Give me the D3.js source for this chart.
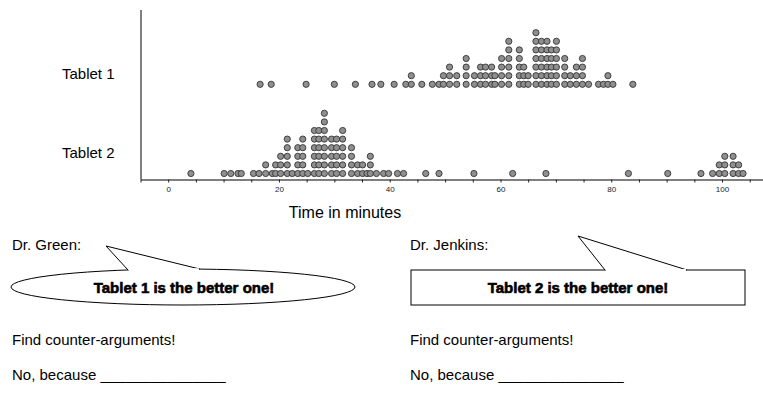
<!DOCTYPE html>
<html><head><meta charset="utf-8">
<script src="https://cdn.jsdelivr.net/npm/d3@7"></script>
<style>
html,body{margin:0;padding:0;background:#fff;}
svg{display:block;font-family:"Liberation Sans",Arial,sans-serif;}
</style></head>
<body><svg id="c" width="763" height="412"></svg>
<script>
// ---- data ----
const categories = ["Tablet 1", "Tablet 2"];
const tablet1 = [
  16.6, 18.6, 24.9, 30.0, 33.8, 36.8, 38.4, 40.8, 42.9, 43.9, 43.9, 45.8, 47.7, 48.9,
  49.7, 49.7, 50.8, 50.8, 50.8, 52.1, 52.1, 53.8, 53.8, 53.8, 53.8, 55.3, 55.3,
  56.4, 56.4, 56.4, 57.3, 57.3, 57.3, 58.4, 58.4, 58.4, 59.0, 59.0,
  60.2, 60.2, 60.2, 60.2, 61.5, 61.5, 61.5, 61.5, 61.5, 61.5,
  63.4, 63.4, 63.4, 63.4, 63.4, 64.2, 64.2, 64.2, 65.0, 65.0,
  66.4, 66.4, 66.4, 66.4, 66.4, 66.4, 66.4, 67.4, 67.4, 67.4, 67.4, 67.4, 67.4,
  68.4, 68.4, 68.4, 68.4, 68.4, 68.4, 69.2, 69.2, 69.2, 69.2, 69.2,
  70.1, 70.1, 70.1, 70.1, 70.1, 70.1, 71.6, 71.6, 71.6, 71.6, 72.6, 72.6,
  73.7, 73.7, 73.7, 74.8, 74.8, 74.8, 74.8, 75.9, 77.7, 78.6, 79.4, 79.4, 80.3, 83.9
];
const tablet2 = [
  4.1, 10.1, 11.3, 12.6, 13.2, 15.4, 16.4, 17.6, 17.6, 18.8, 19.4, 19.4,
  20.3, 20.3, 20.3, 21.5, 21.5, 21.5, 21.5, 21.5, 22.4, 23.4, 23.4, 23.4, 23.4,
  24.3, 24.3, 24.3, 24.3, 24.3, 25.2, 26.4, 26.4, 26.4, 26.4, 26.4, 26.4,
  27.2, 27.2, 27.2, 27.2, 27.2, 27.2, 28.2, 28.2, 28.2, 28.2, 28.2, 28.2, 28.2, 28.2,
  29.5, 29.5, 29.5, 29.5, 29.5, 30.4, 30.4, 30.4, 30.4, 30.4,
  31.5, 31.5, 31.5, 31.5, 31.5, 31.5, 33.1, 33.1, 33.1, 33.1, 34.2, 34.2, 35.1, 35.1,
  35.9, 36.5, 36.5, 36.5, 37.6, 38.9, 39.8, 41.4, 42.5, 46.5, 48.9,
  55.2, 62.2, 68.2, 83.1, 90.2, 96.2, 98.3, 99.5, 99.5, 100.5, 100.5, 100.5,
  102.0, 102.0, 102.0, 103.0, 103.0, 103.8
];
const seriesValues = [tablet1, tablet2];
const axisTicks = [0, 20, 40, 60, 80, 100];
const axisTitle = "Time in minutes";
const speakers = ["Dr. Green:", "Dr. Jenkins:"];
const claims = ["Tablet 1 is the better one!", "Tablet 2 is the better one!"];
const task = "Find counter-arguments!";
const answer = "No, because _______________";

// ---- chart ----
const svg = d3.select("#c");
const x = d3.scaleLinear().domain([-5, 107.4]).range([140.5, 763]);
const y = d3.scalePoint().domain(categories).range([84.3, 173.5]);
const step = 8.6;

svg.append("line").attr("x1",141).attr("x2",141).attr("y1",10).attr("y2",179.5)
  .attr("stroke","#000").attr("stroke-width",1);

const minor = d3.range(-5, 106, 5);
const gx = svg.append("g").attr("transform","translate(0,179.5)")
  .call(d3.axisBottom(x).tickValues(minor).tickSize(3).tickSizeOuter(0)
    .tickFormat(d => axisTicks.includes(d) ? d : ""));
gx.select(".domain").attr("stroke","#000").attr("stroke-width",1.2);
gx.selectAll(".tick line").attr("stroke","#222");
gx.selectAll(".tick text").attr("font-size",8).attr("fill","#222").attr("dy","0.75em")
  .attr("font-family","Liberation Sans, Arial, sans-serif");

// category labels
const labelY = {"Tablet 1": 79, "Tablet 2": 158};
svg.selectAll(".cat").data(categories).join("text")
  .attr("x", 62).attr("y", d => labelY[d])
  .attr("font-size", 15).attr("fill","#000").text(d => d);

// dots (stacked by identical value)
categories.forEach((cat, i) => {
  const seen = new Map();
  const pts = seriesValues[i].map(v => {
    const k = v.toFixed(1);
    const lvl = seen.get(k) || 0;
    seen.set(k, lvl + 1);
    return {v, lvl};
  });
  svg.append("g").selectAll("circle").data(pts).join("circle")
    .attr("cx", d => x(d.v))
    .attr("cy", d => y(cat) - d.lvl * step)
    .attr("r", 3.1)
    .attr("fill", "#8f8f8f")
    .attr("stroke", "#333")
    .attr("stroke-width", 0.9);
});

svg.append("text").attr("x", 345).attr("y", 218).attr("text-anchor","middle")
  .attr("font-size", 16).text(axisTitle);

// ---- speech bubbles ----
const g = svg.append("g").attr("fill","none").attr("stroke","#000").attr("stroke-width",1);
g.append("ellipse").attr("cx",183).attr("cy",287).attr("rx",172).attr("ry",18).attr("fill","#fff");
g.append("path").attr("d","M128,270 L106,246 L200,269.1").attr("fill","#fff");
g.append("line").attr("x1",129).attr("x2",199).attr("y1",269.9).attr("y2",269.2).attr("stroke","#fff").attr("stroke-width",2);
g.append("rect").attr("x",411).attr("y",270).attr("width",334).attr("height",35).attr("fill","#fff");
g.append("path").attr("d","M605,270 L578,236 L687,270").attr("fill","#fff");
g.append("line").attr("x1",606).attr("x2",686).attr("y1",270).attr("y2",270).attr("stroke","#fff").attr("stroke-width",2);

svg.selectAll(".spk").data(speakers).join("text")
  .attr("x",(d,i)=> i===0 ? 12 : 410).attr("y",250).attr("font-size",15).text(d=>d);
svg.selectAll(".clm").data(claims).join("text")
  .attr("x",(d,i)=> i===0 ? 184 : 578).attr("y",293).attr("text-anchor","middle")
  .attr("font-size",15).attr("font-weight","bold").attr("stroke","#000").attr("stroke-width",0.6)
  .text(d=>d);
[12, 410].forEach(px => {
  svg.append("text").attr("x",px).attr("y",345).attr("font-size",15).text(task);
  svg.append("text").attr("x",px).attr("y",380).attr("font-size",15).text(answer);
});
</script></body></html>
